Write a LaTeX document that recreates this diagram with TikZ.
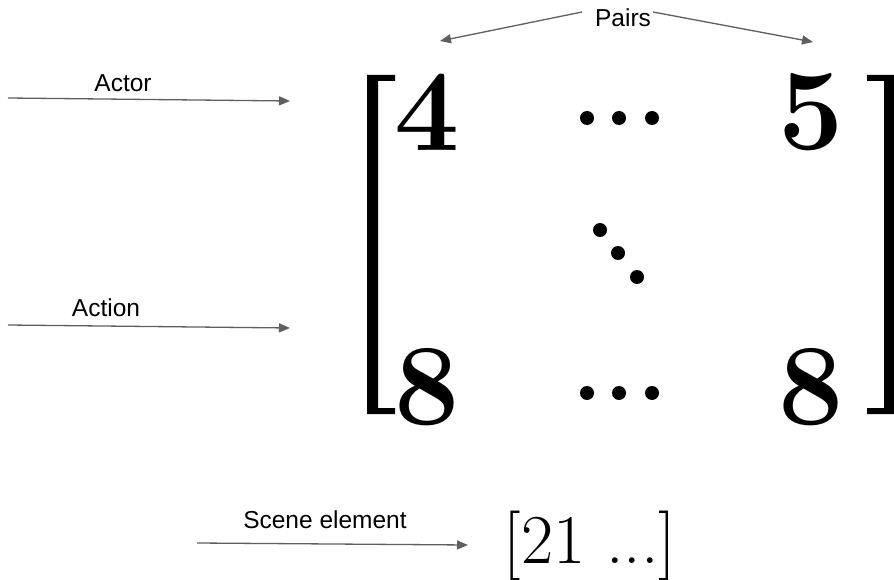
\documentclass[tikz,border=0pt]{standalone}
\usepackage{fontspec}
\usepackage{tikz}
\usetikzlibrary{arrows.meta,positioning}
\newfontfamily\labelfont{Liberation Sans}
\definecolor{arrowgray}{RGB}{95,95,95}
\tikzset{
  pointer/.style={-{Triangle[length=11pt,width=9pt]},line width=1.3pt,draw=arrowgray},
  lbl/.style={font=\labelfont\fontsize{24.5}{29}\selectfont,inner sep=0pt},
  digit/.style={font=\bfseries\fontsize{116}{116}\selectfont,inner sep=0pt},
  dotmark/.style={circle,fill=black,inner sep=0pt,minimum size=14pt},
  brk/.style={fill=black}
}

\begin{document}
\begin{tikzpicture}[x=1pt,y=-1pt]
  \useasboundingbox (0,0) rectangle (894,580);

  \node[lbl] (pairs) at (623,18) {Pairs};
  \coordinate (pairsL0) at (582,12);
  \coordinate (pairsL) at (440,41);
  \coordinate (pairsR0) at (653,12);
  \coordinate (pairsR) at (813,42);
  \draw[pointer] (pairsL0) -- (pairsL);
  \draw[pointer] (pairsR0) -- (pairsR);

  \node[lbl] (actor) at (123,83) {Actor};
  \coordinate (actor0) at (8,98);
  \coordinate (actor1) at (290,101);
  \draw[pointer] (actor0) -- (actor1);

  \node[lbl] (action) at (106,308) {Action};
  \coordinate (action0) at (8,325);
  \coordinate (action1) at (290,328);
  \draw[pointer] (action0) -- (action1);

  \node[lbl] (scene) at (325,520) {Scene element};
  \coordinate (scene0) at (197,543);
  \coordinate (scene1) at (468,545);
  \draw[pointer] (scene0) -- (scene1);

  \fill[brk] (367,75) rectangle (378,414)
             (367,75) rectangle (395,81)
             (367,408) rectangle (395,414);
  \fill[brk] (884,75) rectangle (894,414)
             (867,75) rectangle (894,81)
             (867,408) rectangle (894,414);

  \node[digit] (m11) at (427,112) {4};
  \node[digit] (m12) at (811,112) {5};
  \node[digit] (m21) at (427,387) {8};
  \node[digit] (m22) at (811,387) {8};

  \foreach \i/\x in {1/587,2/619,3/652}{
    \node[dotmark] (top\i) at (\x,118) {};
    \node[dotmark] (bot\i) at (\x,393) {};
  }
  \foreach \i/\x/\y in {1/600/230,2/618/253,3/637/277}{
    \node[dotmark] (diag\i) at (\x,\y) {};
  }

  \node[font=\fontsize{70}{70}\selectfont,inner sep=0pt,anchor=base] (elem) at (590,563) {[21 ...]};
\end{tikzpicture}
\end{document}
